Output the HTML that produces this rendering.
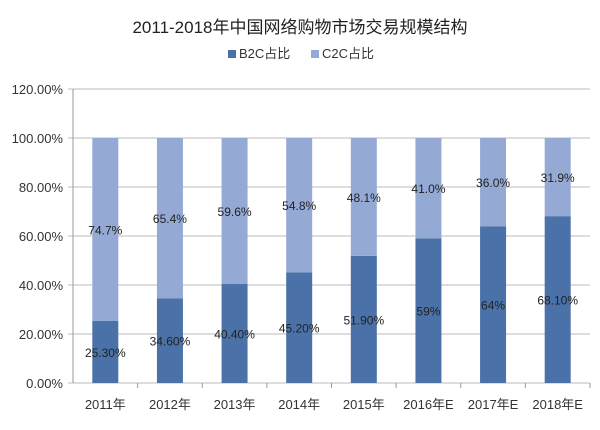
<!DOCTYPE html>
<html><head><meta charset="utf-8"><style>
body{margin:0;background:#fff}
svg{display:block;font-family:"Liberation Sans","Noto Sans CJK SC",sans-serif}
</style></head><body>
<svg width="600" height="430" viewBox="0 0 600 430">
<text x="300" y="33" text-anchor="middle" font-size="17" fill="#222">2011-2018年中国网络购物市场交易规模结构</text>
<g>
<rect x="228" y="50" width="8" height="8" fill="#4a72a8"/>
<text x="239" y="58" font-size="13" fill="#333">B2C占比</text>
<rect x="311" y="50" width="8" height="8" fill="#94aad4"/>
<text x="322" y="58" font-size="13" fill="#333">C2C占比</text>
</g>
<g id="grid"></g><g id="bars"></g><g id="labels"></g><g id="axes"></g>
</svg>
<script>
const categories=["2011年","2012年","2013年","2014年","2015年","2016年E","2017年E","2018年E"];
const b2c=[25.3,34.6,40.4,45.2,51.9,59,64,68.1];
const c2c=[74.7,65.4,59.6,54.8,48.1,41.0,36.0,31.9];
const b2cLabels=["25.30%","34.60%","40.40%","45.20%","51.90%","59%","64%","68.10%"];
const c2cLabels=["74.7%","65.4%","59.6%","54.8%","48.1%","41.0%","36.0%","31.9%"];
const yTicks=[0,20,40,60,80,100,120];
const X0=73,X1=590,Y0=383,Y120=89;
const NS="http://www.w3.org/2000/svg";
const bw=(X1-X0)/categories.length;
function y(v){return Y0-(v/120)*(Y0-Y120);}
function xc(i){return X0+bw*(i+0.5);}
function mk(t,a,p){const e=document.createElementNS(NS,t);for(const k in a)e.setAttribute(k,a[k]);p.appendChild(e);return e;}
const g=document.getElementById('grid'),b=document.getElementById('bars'),l=document.getElementById('labels'),ax=document.getElementById('axes');
yTicks.forEach(v=>{
 const ln=mk('line',{x1:X0-5,x2:X1,y1:y(v),y2:y(v),stroke:'#bbb','stroke-width':1},g);
 
 
 const t=mk('text',{x:X0-10,y:y(v)+5,'text-anchor':'end','font-size':13,fill:'#333'},ax);
 t.textContent=v.toFixed(2)+'%';
 
 
});
mk('line',{x1:X0,x2:X0,y1:Y120,y2:Y0,stroke:'#999'},ax);
categories.forEach((c,i)=>{
 const cx=xc(i),w=26;
 const r1=mk('rect',{x:cx-w/2,y:y(b2c[i]),width:w,height:Y0-y(b2c[i]),fill:'#4a72a8'},b);
 
 
 const top=b2c[i]+c2c[i];
 const r2=mk('rect',{x:cx-w/2,y:y(top),width:w,height:y(b2c[i])-y(top),fill:'#94aad4'},b);
 
 
 const t1=mk('text',{x:cx,y:(Y0+y(b2c[i]))/2+5,'text-anchor':'middle','font-size':12,fill:'#222'},l);
 t1.textContent=b2cLabels[i];
 
 
 const t2=mk('text',{x:cx,y:(y(b2c[i])+y(top))/2+5,'text-anchor':'middle','font-size':12,fill:'#222'},l);
 t2.textContent=c2cLabels[i];
 
 
 const tk=mk('line',{x1:X0+bw*(i+1),x2:X0+bw*(i+1),y1:Y0,y2:Y0+5,stroke:'#999'},ax);
 
 
 const xt=mk('text',{x:cx,y:409,'text-anchor':'middle','font-size':13,fill:'#333'},ax);
 xt.textContent=c;
 
 
});
</script>
</body></html>
